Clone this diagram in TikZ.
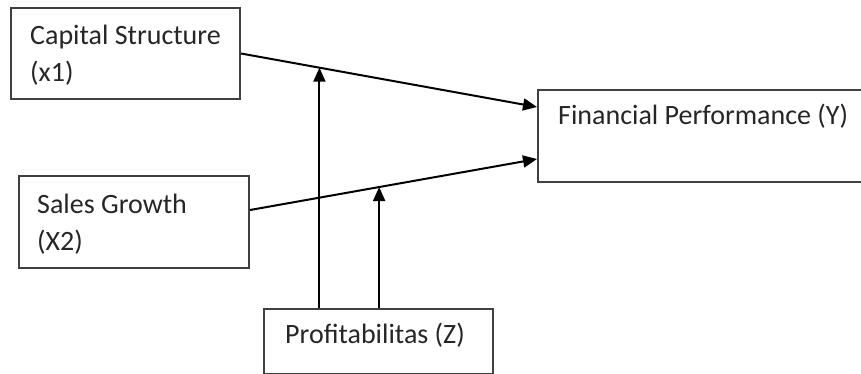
\documentclass[tikz,border=0pt]{standalone}
\usepackage{fontspec}
\setmainfont{Carlito}
\usetikzlibrary{arrows.meta,calc,positioning}

\begin{document}
\begin{tikzpicture}[x=1pt,y=-1pt,
    box/.style={draw=black!75,line width=2pt,inner sep=0pt,anchor=north west},
    lbl/.style={anchor=base west,inner sep=0pt,align=left,text=black!85,
        font=\fontsize{28}{37}\selectfont},
    link/.style={line width=2pt,-{Triangle[length=14pt,width=12pt]}}]
    \useasboundingbox (0,0) rectangle (861,374);
    % boxes
    \node[box,minimum width=229pt,minimum height=91pt] (cap) at (10,7) {};
    \node[box,minimum width=340pt,minimum height=92pt] (fin) at (537,89) {};
    \node[box,minimum width=230pt,minimum height=92pt] (sales) at (18,175) {};
    \node[box,minimum width=229pt,minimum height=65pt] (prof) at (263,308) {};
    % texts (base = last line)
    \node[lbl] (capT) at ([shift={(20pt,-75pt)}]cap.north west) {Capital Structure\\(x1)};
    \node[lbl] (finT) at ([shift={(21pt,-36pt)}]fin.north west) {Financial Performance (Y)};
    \node[lbl] (salesT) at ([shift={(19pt,-75pt)}]sales.north west) {Sales Growth\\(X2)};
    \node[lbl] (profT) at ([shift={(22pt,-35pt)}]prof.north west) {Profitabilitas (Z)};
    % arrows
    \coordinate (capEnd) at ([yshift=-18pt]fin.north west);
    \coordinate (salesStart) at ([yshift=12pt]sales.east);
    \coordinate (salesEnd) at ([yshift=24pt]fin.south west);
    \draw[link] (cap.east) -- (capEnd);
    \draw[link] (salesStart) -- (salesEnd);
    \coordinate (m1) at ($(cap.east)!0.265!(capEnd)$);
    \coordinate (m2) at ($(salesStart)!0.45!(salesEnd)$);
    \draw[link] (prof.north -| m1) -- (m1);
    \draw[link] (prof.north -| m2) -- (m2);
\end{tikzpicture}
\end{document}
